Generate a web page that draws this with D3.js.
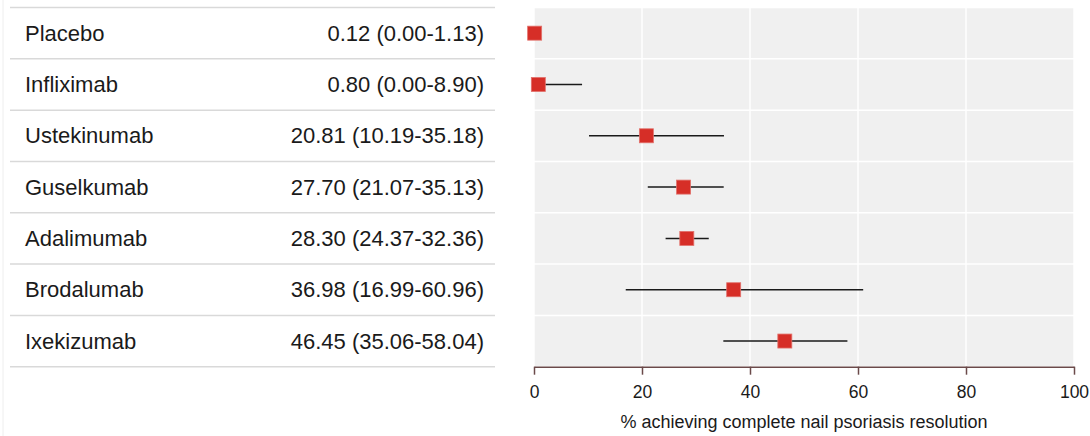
<!DOCTYPE html>
<html>
<head>
<meta charset="utf-8">
<script src="https://d3js.org/d3.v7.min.js"></script>
<style>
  body { margin: 0; background: #ffffff; }
  text { font-family: "Liberation Sans", Arial, sans-serif; }
</style>
</head>
<body>
<div id="forest"></div>
<script>
// Data
var treatments = ["Placebo", "Infliximab", "Ustekinumab", "Guselkumab", "Adalimumab", "Brodalumab", "Ixekizumab"];
var estimates = [0.12, 0.80, 20.81, 27.70, 28.30, 36.98, 46.45];
var lowers = [0.00, 0.00, 10.19, 21.07, 24.37, 16.99, 35.06];
var uppers = [1.13, 8.90, 35.18, 35.13, 32.36, 60.96, 58.04];
var xTicks = [0, 20, 40, 60, 80, 100];
var xTitle = "% achieving complete nail psoriasis resolution";

var rows = treatments.map(function(t, i) {
    return { name: t, est: estimates[i], lo: lowers[i], hi: uppers[i] };
});

var width = 1090, height = 436;

var svg = d3.select("#forest")
    .append("svg")
    .attr("width", width)
    .attr("height", height);

// Row scale shared by table and plot
var yScale = d3.scaleBand().domain(treatments).range([7.5, 366.7]);
var plotTop = yScale.range()[0], plotBottom = yScale.range()[1];
function rowMid(d) { return yScale(d.name) + yScale.bandwidth() / 2; }

// faint left border
svg.append("line")
    .attr("x1", 3).attr("x2", 3)
    .attr("y1", 0).attr("y2", height)
    .style("stroke", "#eeeeee")
    .style("stroke-width", 1);

// ---- Table on the left ----
var table = svg.append("g");

var bounds = treatments.map(function(t) { return yScale(t); });
bounds.push(plotBottom);

table.selectAll("line.sep")
    .data(bounds)
    .enter()
    .append("line")
    .attr("class", "sep")
    .attr("x1", 10).attr("x2", 495)
    .attr("y1", function(d) { return d; })
    .attr("y2", function(d) { return d; })
    .style("stroke", "#d9d9d9")
    .style("stroke-width", 1.5);

table.selectAll("text.name")
    .data(rows)
    .enter()
    .append("text")
    .attr("class", "name")
    .attr("x", 25)
    .attr("y", rowMid)
    .attr("dy", "0.35em")
    .style("font-size", "22px")
    .style("fill", "#1a1a1a")
    .text(function(d) { return d.name; });

table.selectAll("text.value")
    .data(rows)
    .enter()
    .append("text")
    .attr("class", "value")
    .attr("x", 484)
    .attr("y", rowMid)
    .attr("dy", "0.35em")
    .attr("text-anchor", "end")
    .style("font-size", "22px")
    .style("fill", "#1a1a1a")
    .text(function(d) {
        return d.est.toFixed(2) + " (" + d.lo.toFixed(2) + "-" + d.hi.toFixed(2) + ")";
    });

// ---- Plot on the right ----
var xScale = d3.scaleLinear().domain([0, 100]).range([534, 1074]);

var plot = svg.append("g");

plot.append("rect")
    .attr("x", xScale(0))
    .attr("y", plotTop)
    .attr("width", xScale(100) - xScale(0))
    .attr("height", plotBottom - plotTop)
    .style("fill", "#f0f0f0");

// white grid: verticals at ticks, horizontals between rows
plot.selectAll("line.vgrid")
    .data(xTicks)
    .enter()
    .append("line")
    .attr("class", "vgrid")
    .attr("x1", function(d) { return xScale(d); })
    .attr("x2", function(d) { return xScale(d); })
    .attr("y1", plotTop).attr("y2", plotBottom)
    .style("stroke", "#ffffff")
    .style("stroke-width", 1.5);

plot.selectAll("line.hgrid")
    .data(bounds)
    .enter()
    .append("line")
    .attr("class", "hgrid")
    .attr("x1", xScale(0)).attr("x2", xScale(100))
    .attr("y1", function(d) { return d; })
    .attr("y2", function(d) { return d; })
    .style("stroke", "#ffffff")
    .style("stroke-width", 1.5);

// CI lines
plot.selectAll("line.ci")
    .data(rows)
    .enter()
    .append("line")
    .attr("class", "ci")
    .attr("x1", function(d) { return xScale(d.lo); })
    .attr("x2", function(d) { return xScale(d.hi); })
    .attr("y1", rowMid)
    .attr("y2", rowMid)
    .style("stroke", "#1a1a1a")
    .style("stroke-width", 1.5);

// point squares
var sq = 14;
plot.selectAll("rect.pt")
    .data(rows)
    .enter()
    .append("rect")
    .attr("class", "pt")
    .attr("x", function(d) { return xScale(d.est) - sq / 2; })
    .attr("y", function(d) { return rowMid(d) - sq / 2; })
    .attr("width", sq)
    .attr("height", sq)
    .style("fill", "#d62e27")
    .style("stroke", "#e2716b")
    .style("stroke-width", 0.8);

// x axis
var xAxis = plot.append("g")
    .attr("transform", "translate(0," + plotBottom + ")")
    .call(d3.axisBottom(xScale).tickValues(xTicks).tickSize(8).tickPadding(11).tickSizeOuter(0));

xAxis.select(".domain").style("stroke", "#6b4a4a").style("stroke-width", 1.5);
xAxis.selectAll(".tick line").style("stroke", "#6b4a4a").style("stroke-width", 1.5);
xAxis.selectAll(".tick text")
    .style("font-family", "'Liberation Sans', Arial, sans-serif")
    .style("font-size", "17.5px")
    .style("fill", "#1a1a1a");

// axis title
plot.append("text")
    .attr("x", (xScale(0) + xScale(100)) / 2)
    .attr("y", 428)
    .attr("text-anchor", "middle")
    .style("font-size", "18px")
    .style("fill", "#1a1a1a")
    .text(xTitle);
</script>
</body>
</html>
